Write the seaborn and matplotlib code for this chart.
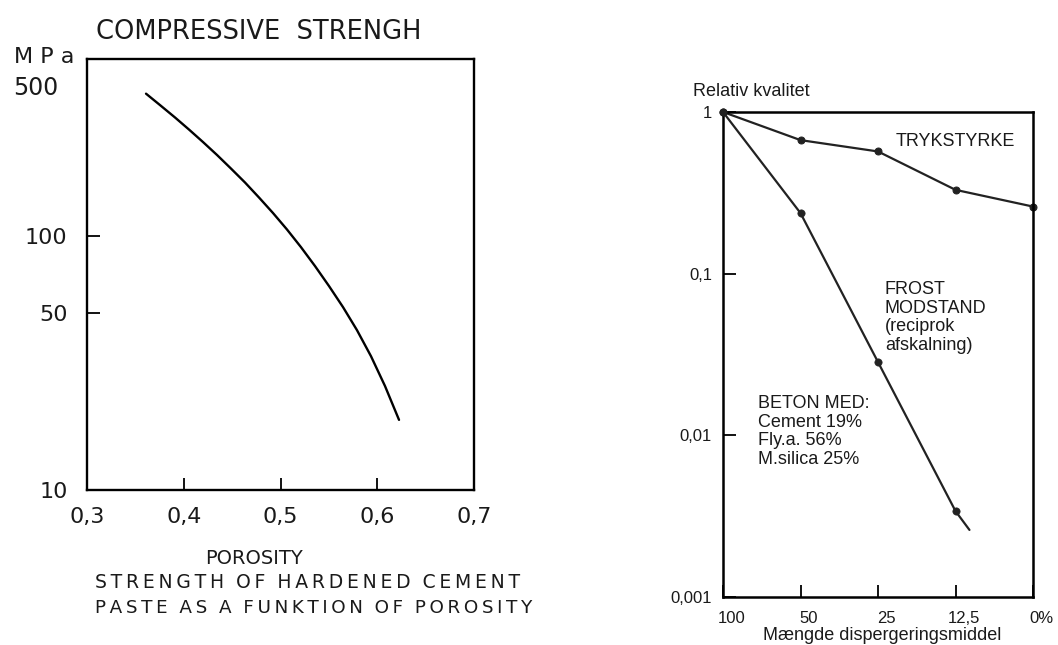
import numpy as np
import pandas as pd
import matplotlib
matplotlib.use("Agg")
import matplotlib.pyplot as plt
import matplotlib.transforms as mtransforms
import seaborn as sns

sns.set_theme(style="white")
plt.rcParams["font.family"] = ["DejaVu Sans"]

# ── left chart: compressive strength vs porosity
porosity = [0.361, 0.3755, 0.391, 0.4054, 0.4199, 0.4344, 0.4488, 0.4633, 0.4778,
            0.4922, 0.5067, 0.5211, 0.5356, 0.5501, 0.5646, 0.579, 0.5935, 0.608, 0.6225]
strength_mpa = [365, 329, 294, 263.6, 235.3, 209.2, 185, 163, 142.2,
                123.6, 106.4, 90.7, 76.4, 63.7, 52.6, 42.7, 33.7, 25.7, 18.9]
left_xticks = [0.3, 0.4, 0.5, 0.6, 0.7]
left_xlabels = ["0,3", "0,4", "0,5", "0,6", "0,7"]
left_yticks = [10, 50, 100]
left_ylabels = ["10", "50", "100"]

# ── right chart: relative quality vs amount of dispersant
dose_labels = ["100", "50", "25", "12,5", "0%"]
tryk_pos = [0, 1, 2, 3, 4]
tryk_val = [1.0, 0.67, 0.57, 0.33, 0.26]
frost_pos = [0, 1, 2, 3, 3.18]
frost_val = [1.0, 0.237, 0.0284, 0.0034, 0.0026]
frost_marked = 4          # last point is only where the line stops
right_yticks = [0.001, 0.01, 0.1, 1]
right_ylabels = ["0,001", "0,01", "0,1", "1"]

W, H = 1058, 645
INK = "#1a1a1a"


def px(x, y):
    return x / W, 1 - y / H


def spaced(s):
    # lettering-guide look: a thin space between letters
    return "  ".join("\u2009".join(w) for w in s.split())


fig = plt.figure(figsize=(W / 100, H / 100), dpi=100)
fig.patch.set_facecolor("white")

# ────────────────────────── left panel
ax1 = fig.add_axes([87 / W, 1 - 490 / H, (474 - 87) / W, (490 - 59) / H])
sns.lineplot(x=porosity, y=strength_mpa, ax=ax1, color="black", linewidth=1.7)
ax1.set_yscale("log")
ax1.set_xlim(0.3, 0.7)
ax1.set_ylim(10, 500)
ax1.set_xticks(left_xticks)
ax1.set_xticklabels(left_xlabels, fontsize=16)
ax1.set_yticks(left_yticks)
ax1.set_yticklabels(left_ylabels, fontsize=16)
ax1.minorticks_off()
ax1.tick_params(direction="in", length=9, width=1.3, color="black", labelcolor=INK,
                bottom=True, left=True)
ax1.tick_params(axis="y", pad=14)
ax1.tick_params(axis="x", pad=12)
for s in ax1.spines.values():
    s.set_color("black")
    s.set_linewidth(1.7)

fig.text(*px(96, 32), "COMPRESSIVE  STRENGH", fontsize=18.5, va="center", ha="left", color=INK)
fig.text(*px(14, 57), "M P a", fontsize=16, va="center", ha="left", color=INK)
fig.text(*px(13, 88), "500", fontsize=17, va="center", ha="left", color=INK)
fig.text(*px(254, 558), "POROSITY", fontsize=14, va="center", ha="center", color=INK)
fig.text(*px(95, 583), spaced("STRENGTH OF HARDENED CEMENT"), fontsize=13.5,
         va="center", ha="left", color=INK)
fig.text(*px(95, 608), spaced("PASTE AS A FUNKTION OF POROSITY"), fontsize=13.2,
         va="center", ha="left", color=INK)

# ────────────────────────── right panel
sans = ["Liberation Sans", "DejaVu Sans"]
ax2 = fig.add_axes([723 / W, 1 - 597 / H, (1033 - 723) / W, (597 - 112) / H])
sns.lineplot(x=tryk_pos, y=tryk_val, ax=ax2, color="#222222", linewidth=1.6,
             marker="o", markersize=5, markeredgecolor="#222222", clip_on=False)
sns.lineplot(x=frost_pos, y=frost_val, ax=ax2, color="#222222", linewidth=1.6)
sns.scatterplot(x=frost_pos[:frost_marked], y=frost_val[:frost_marked], ax=ax2,
                color="#222222", s=28, edgecolor="#222222", zorder=5, clip_on=False)
ax2.set_yscale("log")
ax2.set_xlim(0, 4)
ax2.set_ylim(0.001, 1)
ax2.set_xticks(range(len(dose_labels)))
ax2.set_xticklabels(dose_labels, fontsize=12, family=sans)
ax2.set_yticks(right_yticks)
ax2.set_yticklabels(right_ylabels, fontsize=12, family=sans)
ax2.minorticks_off()
ax2.tick_params(direction="in", length=9, width=1.3, color="black", labelcolor=INK,
                bottom=True, left=True)
ax2.tick_params(axis="y", pad=8)
ax2.tick_params(axis="x", pad=10)
shift = mtransforms.ScaledTranslation(6 / 72, 0, fig.dpi_scale_trans)
for lbl in ax2.get_xticklabels():
    lbl.set_transform(lbl.get_transform() + shift)
for s in ax2.spines.values():
    s.set_color("black")
    s.set_linewidth(1.8)

fig.text(*px(882, 636), "Mængde dispergeringsmiddel", fontsize=13, family=sans,
         va="center", ha="center", color=INK)
fig.text(*px(693, 91), "Relativ kvalitet", fontsize=13, family=sans, va="center", ha="left", color=INK)
fig.text(*px(896, 142), "TRYKSTYRKE", fontsize=13, family=sans, va="center", ha="left", color=INK)
fig.text(*px(885, 281), "FROST\nMODSTAND\n(reciprok\nafskalning)", fontsize=13, family=sans,
         va="top", ha="left", linespacing=1.12, color=INK)
fig.text(*px(758, 395), "BETON MED:\nCement 19%\nFly.a. 56%\nM.silica 25%", fontsize=13, family=sans,
         va="top", ha="left", linespacing=1.12, color=INK)

fig.savefig("out.png", dpi=100, facecolor="white")
